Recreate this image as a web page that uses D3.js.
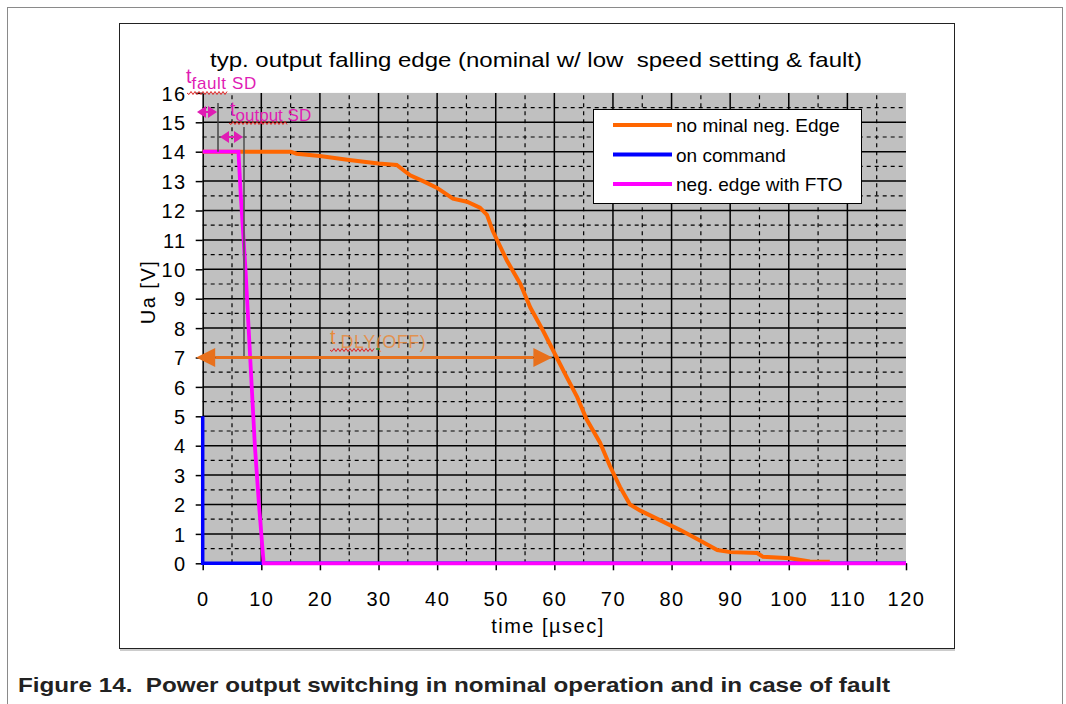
<!DOCTYPE html>
<html>
<head>
<meta charset="UTF-8" />
<title>typ. output falling edge</title>
<style>
  body { margin: 0; background: #fff; }
  svg { display: block; font-family: Arial, "Liberation Sans", sans-serif; }
  text { white-space: pre; }
  .grid-major { stroke: #000; stroke-width: 1.5px; }
  .grid-minor { stroke: #000; stroke-width: 1.2px; stroke-dasharray: 4 4; }
  .tick-label { font-size: 20px; fill: #000; letter-spacing: 1.5px; }
</style>
<script src="https://d3js.org/d3.v7.min.js"></script>
</head>
<body>
<svg id="chart" width="1066" height="704"></svg>
<script>
// ---- data ----
const xTicks = [0, 10, 20, 30, 40, 50, 60, 70, 80, 90, 100, 110, 120];
const yTicks = [0, 1, 2, 3, 4, 5, 6, 7, 8, 9, 10, 11, 12, 13, 14, 15, 16];

const seriesNames = ["no minal neg. Edge", "on command", "neg. edge with FTO"];
const seriesColors = ["#ff6600", "#0000ff", "#ff00ff"];

// nominal neg. edge [time µs, Ua V]
const nominalEdge = [
  [0, 14], [15, 14], [16, 13.93], [20, 13.85], [25, 13.72], [30, 13.6], [33.1, 13.55],
  [35.4, 13.2], [37.6, 13.0], [40, 12.77], [42.7, 12.4], [45.1, 12.3], [47.3, 12.1],
  [48.5, 11.85], [49.5, 11.3], [51.9, 10.3], [54.2, 9.5], [55.9, 8.7], [58.1, 7.9],
  [60.4, 7.0], [62.2, 6.3], [63.9, 5.65], [65.5, 4.9], [67.8, 4.1], [69.5, 3.3],
  [71.2, 2.6], [72.9, 2.0], [74.6, 1.8], [78, 1.47], [81.5, 1.13], [84.6, 0.8],
  [87.8, 0.45], [90, 0.38], [94.6, 0.35], [95.6, 0.22], [100.2, 0.17], [103.6, 0.06],
  [107, 0.05]
];
// on command
const onCommand = [[0, 5], [0, 0], [120, 0]];
// neg. edge with FTO
const ftoEdge = [
  [0, 14], [6.1, 14], [6.5, 12.5], [7.3, 10], [8.1, 7], [8.9, 4], [9.6, 2],
  [10.2, 0.5], [10.4, 0], [120, 0]
];

// ---- layout ----
const svg = d3.select("#chart");
const x = d3.scaleLinear().domain([0, 120]).range([202.7, 906]);
const y = d3.scaleLinear().domain([0, 16]).range([563.3, 92.9]);

// outer page frame and inner chart frame
svg.append("rect").attr("x", 7.5).attr("y", 7.5).attr("width", 1055).attr("height", 720)
  .attr("fill", "none").attr("stroke", "#8a8a8a").attr("stroke-width", 1);
svg.append("rect").attr("x", 119.5).attr("y", 23.5).attr("width", 835).attr("height", 625)
  .attr("fill", "none").attr("stroke", "#222").attr("stroke-width", 1);
svg.append("line").attr("x1", 120).attr("x2", 955).attr("y1", 650).attr("y2", 650)
  .attr("stroke", "#999").attr("stroke-width", 1);

// plot area
svg.append("rect")
  .attr("x", x(0)).attr("y", y(16))
  .attr("width", x(120) - x(0)).attr("height", y(0) - y(16))
  .attr("fill", "#c0c0c0");

// grid
const g = svg.append("g");
const xMinor = d3.range(5, 120, 10);
const yMinor = d3.range(0.5, 16, 1);
g.selectAll("line.xminor").data(xMinor).join("line").attr("class", "grid-minor")
  .attr("x1", d => x(d)).attr("x2", d => x(d)).attr("y1", y(0)).attr("y2", y(16));
g.selectAll("line.yminor").data(yMinor).join("line").attr("class", "grid-minor")
  .attr("x1", x(0)).attr("x2", x(120)).attr("y1", d => y(d)).attr("y2", d => y(d));
g.selectAll("line.xmajor").data(xTicks.slice(1, -1)).join("line").attr("class", "grid-major")
  .attr("x1", d => x(d)).attr("x2", d => x(d)).attr("y1", y(0)).attr("y2", y(16));
g.selectAll("line.ymajor").data(yTicks.slice(1, -1)).join("line").attr("class", "grid-major")
  .attr("x1", x(0)).attr("x2", x(120)).attr("y1", d => y(d)).attr("y2", d => y(d));

// axes
const xAxis = d3.axisBottom(x).tickValues(xTicks).tickSize(7).tickSizeOuter(0).tickPadding(22);
const yAxis = d3.axisLeft(y).tickValues(yTicks).tickSize(7).tickSizeOuter(0).tickPadding(9);
const gx = svg.append("g").attr("transform", `translate(0,${y(0)})`).call(xAxis);
const gy = svg.append("g").attr("transform", `translate(${x(0)},0)`).call(yAxis);
[gx, gy].forEach(a => {
  a.select(".domain").attr("stroke", "#000").attr("stroke-width", 1.5);
  a.selectAll(".tick line").attr("stroke", "#000").attr("stroke-width", 1.5);
  a.selectAll(".tick text").attr("class", "tick-label").attr("font-family", null).attr("font-size", null);
});
gy.selectAll(".tick text").attr("dy", "0.36em");

// series lines
const line = d3.line().x(d => x(d[0])).y(d => y(d[1]));
svg.append("path").datum(onCommand).attr("d", line)
  .attr("fill", "none").attr("stroke", seriesColors[1]).attr("stroke-width", 3.5);
svg.append("path").datum(nominalEdge).attr("d", line)
  .attr("fill", "none").attr("stroke", seriesColors[0]).attr("stroke-width", 4);
svg.append("path").datum(ftoEdge).attr("d", line)
  .attr("fill", "none").attr("stroke", seriesColors[2]).attr("stroke-width", 3.8);

// titles
svg.append("text").attr("x", 536).attr("y", 67).attr("text-anchor", "middle")
  .attr("font-size", 21).attr("textLength", 652).attr("lengthAdjust", "spacingAndGlyphs")
  .text("typ. output falling edge (nominal w/ low  speed setting & fault)");
svg.append("text").attr("x", 548).attr("y", 633).attr("text-anchor", "middle")
  .attr("font-size", 20).attr("letter-spacing", 1.5).text("time [µsec]");
svg.append("text").attr("transform", "translate(155,292) rotate(-90)").attr("text-anchor", "middle")
  .attr("font-size", 20).attr("letter-spacing", 1.5).text("Ua [V]");

// legend
const lg = svg.append("g");
lg.append("rect").attr("x", 593.5).attr("y", 109.5).attr("width", 268).attr("height", 94)
  .attr("fill", "#fff").attr("stroke", "#000").attr("stroke-width", 1);
seriesNames.forEach((name, i) => {
  const ly = 125 + i * 29.5;
  lg.append("line").attr("x1", 613).attr("x2", 672).attr("y1", ly).attr("y2", ly)
    .attr("stroke", seriesColors[i]).attr("stroke-width", 4);
  lg.append("text").attr("x", 676).attr("y", ly + 7).attr("font-size", 19).text(name);
});

// ---- annotations ----
const pink = "#e01cb4";
const ann = svg.append("g");
function wavy(x0, x1, yy, color) {
  let d = `M${x0},${yy}`;
  for (let px = x0 + 2, k = 0; px <= x1; px += 2, k++) d += `L${px},${yy + (k % 2 ? -1.5 : 1.5)}`;
  ann.append("path").attr("d", d).attr("fill", "none").attr("stroke", color).attr("stroke-width", 1);
}
function dblArrow(x0, x1, yy, color, w, head, hw) {
  ann.append("line").attr("x1", x0 + head).attr("x2", x1 - head).attr("y1", yy).attr("y2", yy)
    .attr("stroke", color).attr("stroke-width", w);
  ann.append("path").attr("d", `M${x0},${yy}L${x0 + head},${yy - hw}L${x0 + head},${yy + hw}Z`).attr("fill", color);
  ann.append("path").attr("d", `M${x1},${yy}L${x1 - head},${yy - hw}L${x1 - head},${yy + hw}Z`).attr("fill", color);
}

// gray marker lines
ann.append("line").attr("x1", 218).attr("x2", 218).attr("y1", 103).attr("y2", y(14))
  .attr("stroke", "#444").attr("stroke-width", 1.5);
ann.append("line").attr("x1", 244).attr("x2", 244).attr("y1", 127).attr("y2", y(7))
  .attr("stroke", "#555").attr("stroke-width", 2).attr("opacity", 0.8);

dblArrow(197, 217, 112, pink, 2, 9, 6);
dblArrow(220, 243, 137, pink, 2, 9, 6);

// t fault SD
const t1 = ann.append("text").attr("x", 186).attr("y", 83).attr("fill", pink).attr("font-size", 20);
t1.append("tspan").text("t");
t1.append("tspan").attr("dy", 6).attr("font-size", 17).attr("letter-spacing", 0.6).text("fault SD");
wavy(187, 228, 93, "#e02020");

// t output SD
const t2 = ann.append("text").attr("x", 230).attr("y", 116).attr("fill", pink).attr("font-size", 20);
t2.append("tspan").text("t");
t2.append("tspan").attr("dy", 5).attr("font-size", 17).text("output SD");
wavy(229, 288, 123, "#e02020");

// t DLY(OFF)
const orangeAnn = "#e8701c";
dblArrow(x(0) - 6.5, x(60) - 2, y(7), orangeAnn, 3, 19, 9.5);
const t3 = ann.append("text").attr("x", 330).attr("y", 344).attr("fill", "#e88a3c").attr("font-size", 20);
t3.append("tspan").text("t");
t3.append("tspan").attr("dy", 4).attr("dx", 5).attr("font-size", 18).attr("letter-spacing", 0.5)
  .attr("fill-opacity", 0.85).text("DLY(OFF)");
wavy(330, 374, 350, "#e02020");
ann.append("line").attr("x1", 376).attr("x2", 380).attr("y1", 349).attr("y2", 349)
  .attr("stroke", "#2a8a2a").attr("stroke-width", 1.5);

// caption
svg.append("text").attr("x", 18).attr("y", 692).attr("font-size", 21).attr("font-weight", "bold")
  .attr("fill", "#222").attr("textLength", 872).attr("lengthAdjust", "spacingAndGlyphs")
  .text("Figure 14.  Power output switching in nominal operation and in case of fault");
</script>
</body>
</html>
